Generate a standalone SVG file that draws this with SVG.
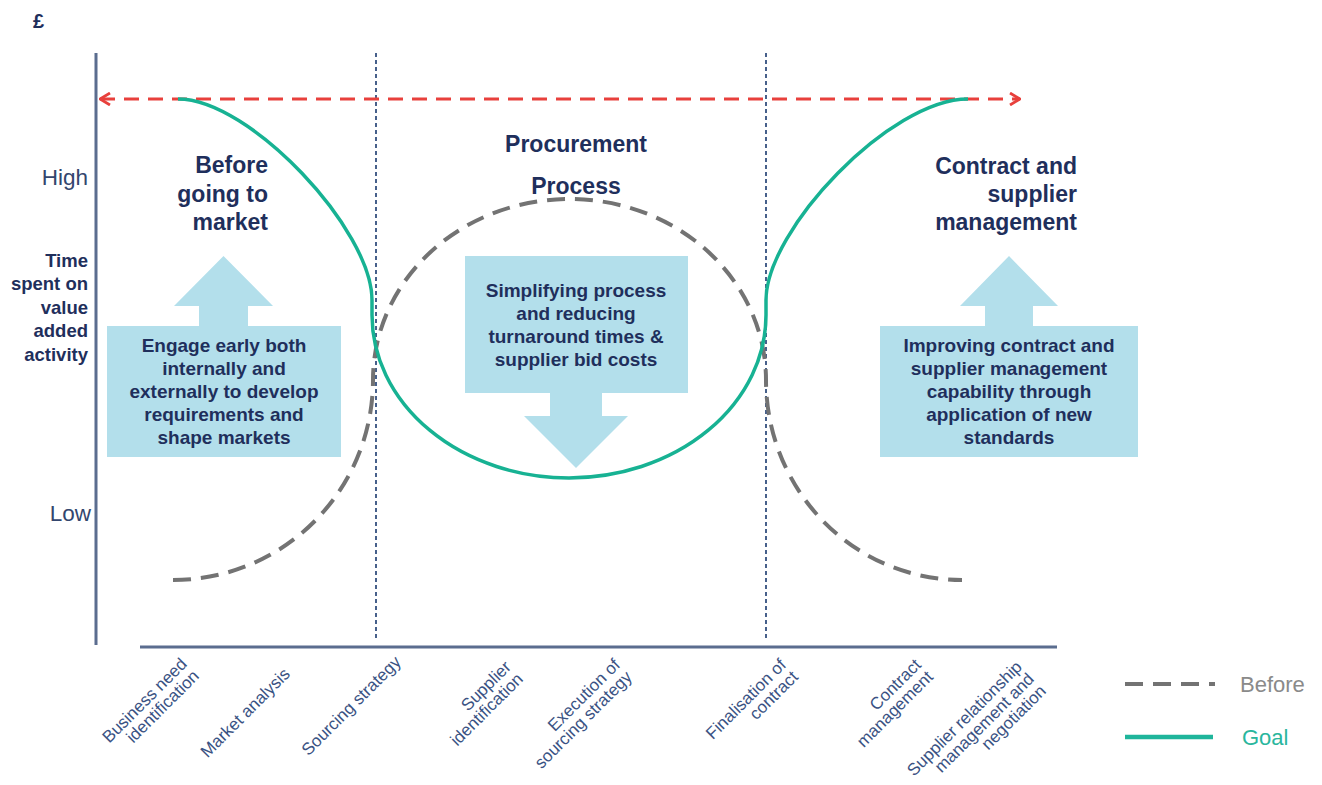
<svg xmlns="http://www.w3.org/2000/svg" width="1322" height="785" viewBox="0 0 1322 785">
<defs>
<style>
.navy{fill:#1f2f5c;font-family:"Liberation Sans",Arial,sans-serif}
.head{font-size:23px;font-weight:bold}
.box-t{font-size:19px;font-weight:bold;text-anchor:middle}
.axl{fill:#33466e;font-family:"Liberation Sans",Arial,sans-serif;font-size:22.5px;text-anchor:end}
.ytitle{font-size:18.5px;font-weight:bold;text-anchor:end}
.xl{fill:#3a5283;font-family:"Liberation Sans",Arial,sans-serif;font-size:17px;text-anchor:end}
.box{fill:#b3dfeb}
.goal{fill:none;stroke:#17b293;stroke-width:3.5}
.before{fill:none;stroke:#737373;stroke-width:4;stroke-dasharray:18 10}
.vdot{stroke:#34507f;stroke-width:1.8;stroke-dasharray:4 3}
.axis{stroke:#5b6d8f;stroke-width:3}
</style>
<marker id="chev" viewBox="0 0 12 14" refX="11" refY="7" markerWidth="12" markerHeight="14" markerUnits="userSpaceOnUse" orient="auto-start-reverse">
<path d="M1,1 L11,7 L1,13" fill="none" stroke="#e8403c" stroke-width="2.8"/>
</marker>
</defs>
<rect width="1322" height="785" fill="#ffffff"/>

<g id="axes">
<line class="axis" x1="96" y1="53" x2="96" y2="645"/>
<line class="axis" x1="140" y1="647" x2="1057" y2="647"/>
<line class="vdot" x1="376" y1="53" x2="376" y2="640"/>
<line class="vdot" x1="766" y1="53" x2="766" y2="640"/>
</g>

<g id="axis-labels">
<text class="navy" x="33" y="28" font-size="20" font-weight="bold">£</text>
<text class="axl" x="88" y="185">High</text>
<text class="axl" x="91" y="521">Low</text>
<text class="navy ytitle"><tspan x="88" y="267">Time</tspan><tspan x="88" y="290">spent on</tspan><tspan x="88" y="314">value</tspan><tspan x="88" y="337">added</tspan><tspan x="88" y="361">activity</tspan></text>
</g>

<g id="connectors">
<line x1="100" y1="99" x2="1020" y2="99" stroke="#e8403c" stroke-width="3" stroke-dasharray="15 9" marker-start="url(#chev)" marker-end="url(#chev)"/>
<path class="before" d="M173,580 A200,200 0 0 0 373,380 A196.5,181 0 0 1 569.5,199 A196.5,181 0 0 1 766,380 A196,200 0 0 0 962,580"/>
<path class="goal" d="M178,99 C250,99 372,230 372,300 L372,315 A197,163 0 0 0 766,315 L766,300 C766,230 890,99 968,99"/>
</g>

<g id="node-before-market">
<text class="navy head" text-anchor="end"><tspan x="268" y="173">Before</tspan><tspan x="268" y="202">going to</tspan><tspan x="268" y="230">market</tspan></text>
<path class="box" d="M107,326 H199 V306 H174 L223.5,256 L273,306 H248 V326 H341 V457 H107 Z"/>
<text class="navy box-t"><tspan x="224" y="352">Engage early both</tspan><tspan x="224" y="375">internally and</tspan><tspan x="224" y="398">externally to develop</tspan><tspan x="224" y="421">requirements and</tspan><tspan x="224" y="444">shape markets</tspan></text>
</g>

<g id="node-procurement">
<text class="navy head" text-anchor="middle"><tspan x="576" y="152">Procurement</tspan><tspan x="576" y="194">Process</tspan></text>
<path class="box" d="M465,256 H688 V393 H602 V416 H628 L576,468 L524,416 H550 V393 H465 Z"/>
<text class="navy box-t"><tspan x="576" y="297">Simplifying process</tspan><tspan x="576" y="320">and reducing</tspan><tspan x="576" y="343">turnaround times &amp;</tspan><tspan x="576" y="366">supplier bid costs</tspan></text>
</g>

<g id="node-contract">
<text class="navy head" text-anchor="end"><tspan x="1077" y="174">Contract and</tspan><tspan x="1077" y="202">supplier</tspan><tspan x="1077" y="230">management</tspan></text>
<path class="box" d="M880,326 H985 V306 H960 L1009,256 L1058,306 H1033 V326 H1138 V457 H880 Z"/>
<text class="navy box-t"><tspan x="1009" y="352">Improving contract and</tspan><tspan x="1009" y="375">supplier management</tspan><tspan x="1009" y="398">capability through</tspan><tspan x="1009" y="421">application of new</tspan><tspan x="1009" y="444">standards</tspan></text>
</g>

<g id="x-labels">
<text class="xl" transform="translate(188,665) rotate(-45)"><tspan x="0" y="0">Business need</tspan><tspan x="0" dy="17">identification</tspan></text>
<text class="xl" transform="translate(291,675) rotate(-45)">Market analysis</text>
<text class="xl" transform="translate(402,663) rotate(-45)">Sourcing strategy</text>
<text class="xl" transform="translate(512,668) rotate(-45)"><tspan x="0" y="0">Supplier</tspan><tspan x="0" dy="17">identification</tspan></text>
<text class="xl" transform="translate(621,666) rotate(-45)"><tspan x="0" y="0">Execution of</tspan><tspan x="0" dy="17">sourcing strategy</tspan></text>
<text class="xl" transform="translate(787,666) rotate(-45)"><tspan x="0" y="0">Finalisation of</tspan><tspan x="0" dy="17">contract</tspan></text>
<text class="xl" transform="translate(922,666) rotate(-45)"><tspan x="0" y="0">Contract</tspan><tspan x="0" dy="17">management</tspan></text>
<text class="xl" transform="translate(1023,668) rotate(-45)"><tspan x="0" y="0">Supplier relationship</tspan><tspan x="0" dy="17">management and</tspan><tspan x="0" dy="17">negotiation</tspan></text>
</g>

<g id="legend">
<line class="before" x1="1125" y1="684" x2="1215" y2="684"/>
<text x="1240" y="692" font-family="Liberation Sans,Arial,sans-serif" font-size="22" fill="#8a8a8a">Before</text>
<line x1="1125" y1="737" x2="1213" y2="737" stroke="#1fb59b" stroke-width="4.5"/>
<text x="1242" y="745" font-family="Liberation Sans,Arial,sans-serif" font-size="22" fill="#2ab69d">Goal</text>
</g>
</svg>
